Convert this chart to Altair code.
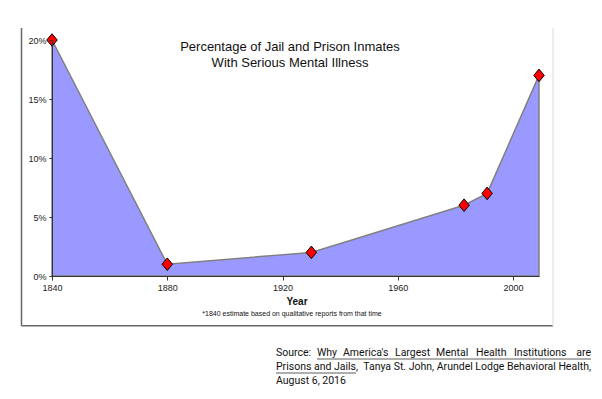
import altair as alt
import pandas as pd

years = [1840, 1880, 1930, 1983, 1991, 2009]
percent = [20, 1, 2, 6, 7, 17]
x_ticks = [1840, 1880, 1920, 1960, 2000]
y_ticks = [0, 5, 10, 15, 20]
title_lines = ["Percentage of Jail and Prison Inmates", "With Serious Mental Illness"]
x_title = "Year"
footnote = "*1840 estimate based on qualitative reports from that time"
source_line1_words = ["Source:", "Why", "America's", "Largest", "Mental", "Health", "Institutions", "are"]
source_line2_parts = ["Prisons and Jails,", "Tanya St. John, Arundel Lodge Behavioral Health,"]
source_line3 = "August 6, 2016"

df = pd.DataFrame({"year": years, "pct": percent})

W, H = 487, 236

xs = alt.Scale(domain=[1840, 2009], nice=False, zero=False)
ys = alt.Scale(domain=[0, 20], nice=False)

x_axis = alt.Axis(values=x_ticks, format="d", title=None, grid=False,
                  labelFont="Liberation Sans", labelFontSize=9, labelColor="#222",
                  domainColor="#333", tickColor="#333", tickSize=4, labelPadding=3,
                  labelFlush=False, zindex=1)
y_axis = alt.Axis(values=y_ticks, labelExpr="datum.value + '%'", title=None, grid=False,
                  labelFont="Liberation Sans", labelFontSize=9, labelColor="#222",
                  domainColor="#333", tickColor="#333", tickSize=3, labelPadding=3,
                  zindex=1)

base = alt.Chart(df)

area = base.mark_area(color="#9999FF", opacity=1, stroke="#808080", strokeWidth=1.5).encode(
    x=alt.X("year:Q", scale=xs, axis=x_axis),
    y=alt.Y("pct:Q", scale=ys, axis=y_axis),
)

points = base.mark_point(
    shape="M-1,0L0,-1.2L1,0L0,1.2Z", filled=True, fill="#FF0000", stroke="#000000",
    strokeWidth=1, size=110, opacity=1,
).encode(x=alt.X("year:Q", scale=xs), y=alt.Y("pct:Q", scale=ys))


def text(s, x, y, size, align="center", weight="normal", font="Liberation Sans"):
    return alt.Chart(pd.DataFrame({"t": [s]})).mark_text(
        font=font, fontSize=size, fontWeight=weight, color="#111",
        align=align, baseline="middle"
    ).encode(text="t:N", x=alt.value(x), y=alt.value(y))


def rule(x1, x2, y1, y2, color, w):
    return alt.Chart(pd.DataFrame({"a": [0]})).mark_rule(color=color, strokeWidth=w).encode(
        x=alt.value(x1), x2=alt.value(x2), y=alt.value(y1), y2=alt.value(y2)
    )


layers = [
    rule(-30.5, -30.5, -12, 285.7, "#666666", 1.5),
    rule(-30.5, 501, 285.7, 285.7, "#666666", 1.5),
    rule(501, 501, -12, 285.7, "#e6e6e6", 1.5),
    area, points,
    text(title_lines[0], 238, 7, 13),
    text(title_lines[1], 238, 23, 13),
    text(x_title, 245, 262, 10, weight="bold"),
    text(footnote, 240, 274, 7),
]

src_font = "Roboto"
src_size = 10.5
# justified first line: word start positions
word_x = [224, 265, 291, 343, 384, 424, 462]
for w, xx in zip(source_line1_words[:-1], word_x):
    layers.append(text(w, xx, 313, src_size, align="left", font=src_font))
layers.append(text(source_line1_words[-1], 539, 313, src_size, align="right", font=src_font))
layers.append(text(source_line2_parts[0], 224, 326.5, src_size, align="left", font=src_font))
layers.append(text(source_line2_parts[1], 539, 326.5, src_size, align="right", font=src_font))
layers.append(text(source_line3, 224, 340.5, src_size, align="left", font=src_font))
layers.append(rule(265, 539, 319, 319, "#333", 0.8))
layers.append(rule(224, 304, 333, 333, "#333", 0.8))

chart = alt.layer(*layers).properties(
    width=W, height=H,
    autosize=alt.AutoSizeParams(type="none"),
    padding={"left": 44, "top": 32, "right": 55, "bottom": 115},
).configure_view(stroke=None)

chart.save("out.html", embed_options={"renderer": "svg", "actions": False})
